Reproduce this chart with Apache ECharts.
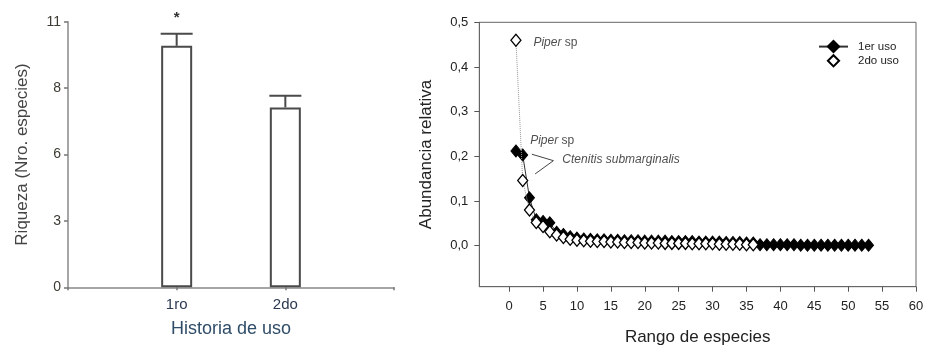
<!DOCTYPE html>
<html>
<head>
<meta charset="utf-8">
<script src="https://cdn.jsdelivr.net/npm/echarts@6/dist/echarts.min.js"></script>
<style>
  html, body { margin: 0; padding: 0; background: #fff; }
  #chart { width: 928px; height: 345px; }
</style>
</head>
<body>
<div id="chart"></div>
<script>
// Riqueza por historia de uso (panel izquierdo)
const usoCategories = ['', '1ro', '2do', ''];
const riquezaMedia = [null, 10.0, 7.45, null];
const riquezaError = [null, 0.5, 0.48, null];
const significancia = ['', '*', '', ''];
const riquezaTicks = [0, 2.75, 5.5, 8.25, 11];
const riquezaTickLabels = ['0', '3', '6', '8', '11'];

// Curvas rango-abundancia (panel derecho)
const abundancia1erUso = [
  0.212, 0.203, 0.107, 0.058, 0.054, 0.051, 0.030, 0.025, 0.020, 0.017,
  0.015, 0.014, 0.013, 0.013, 0.012, 0.012, 0.011, 0.011, 0.011, 0.010,
  0.010, 0.010, 0.010, 0.009, 0.009, 0.009, 0.009, 0.008, 0.008, 0.008,
  0.008, 0.007, 0.007, 0.007, 0.006, 0.006, 0.002, 0.002, 0.002, 0.002,
  0.002, 0.002, 0.001, 0.001, 0.001, 0.001, 0.001, 0.001, 0.001, 0.001,
  0.001, 0.001, 0.001
];
const abundancia2doUso = [
  0.460, 0.146, 0.080, 0.052, 0.043, 0.031, 0.024, 0.018, 0.014, 0.012,
  0.011, 0.010, 0.009, 0.009, 0.008, 0.008, 0.007, 0.007, 0.007, 0.006,
  0.006, 0.006, 0.005, 0.005, 0.005, 0.005, 0.004, 0.004, 0.004, 0.004,
  0.003, 0.003, 0.003, 0.003, 0.002, 0.002
];
const rangoTicks = [0, 5, 10, 15, 20, 25, 30, 35, 40, 45, 50, 55, 60];
const abundanciaTicks = [0, 0.1, 0.2, 0.3, 0.4, 0.5];

// Rótulos de especies y su guía en forma de ">"
const rotulosEspecies = [
  { pos: [3.58, 0.4537], texto: '{it|Piper} sp' },
  { pos: [3.10, 0.235], texto: '{it|Piper} sp' },
  { pos: [7.85, 0.193], texto: '{it|Ctenitis submarginalis}' }
];
const guiaCtenitis = [[3.35, 0.2046], [6.53, 0.1902], [3.83, 0.1605]];

const FONT = '"Liberation Sans", Arial, sans-serif';

const chart = echarts.init(document.getElementById('chart'), null, { renderer: 'canvas' });

const rankPairs = arr => arr.map((v, i) => [i + 1, v]);

const option = {
  animation: false,
  backgroundColor: '#fff',
  textStyle: { fontFamily: FONT },
  grid: [
    { left: 68, top: 21.7, width: 326, height: 265.6, outerBoundsMode: 'none' },
    { left: 479.3, top: 22.3, width: 436.7, height: 264.4, outerBoundsMode: 'none', show: true,
      borderColor: '#666', borderWidth: 1, backgroundColor: 'transparent' }
  ],
  legend: {
    left: 813, top: 35, orient: 'vertical',
    itemWidth: 29, itemHeight: 14, itemGap: 1,
    textStyle: { fontSize: 11.5, color: '#222', fontFamily: FONT, padding: [0, 0, 0, 5] },
    data: [
      { name: '1er uso' },
      { name: '2do uso', lineStyle: { opacity: 0 } }
    ]
  },
  xAxis: [
    {
      gridIndex: 0, type: 'category', data: usoCategories, boundaryGap: false,
      axisLine: { lineStyle: { color: '#888', width: 1.5 } },
      axisTick: { length: 3, lineStyle: { color: '#777', width: 1.5 } },
      axisLabel: { fontSize: 15, color: '#2c3a52', margin: 10, fontFamily: FONT },
      name: 'Historia de uso', nameLocation: 'middle', nameGap: 33,
      nameTextStyle: { fontSize: 18, color: '#2f4d68', fontFamily: FONT }
    },
    {
      gridIndex: 1, type: 'value', min: -4.4, max: 60,
      axisLine: { onZero: false, lineStyle: { color: '#666', width: 1 } },
      axisTick: { length: 5, customValues: rangoTicks, lineStyle: { color: '#555' } },
      axisLabel: { fontSize: 13, color: '#222', margin: 13, customValues: rangoTicks, fontFamily: FONT },
      splitLine: { show: false },
      name: 'Rango de especies', nameLocation: 'middle', nameGap: 42,
      nameTextStyle: { fontSize: 17, color: '#222', fontFamily: FONT }
    }
  ],
  yAxis: [
    {
      gridIndex: 0, type: 'value', min: 0, max: 11,
      axisLine: { show: true, lineStyle: { color: '#888', width: 1.5 } },
      axisTick: { show: true, length: 4, customValues: riquezaTicks, lineStyle: { color: '#777', width: 1.5 } },
      axisLabel: {
        fontSize: 14, color: '#3d3a33', margin: 7, customValues: riquezaTicks, fontFamily: FONT,
        formatter: v => riquezaTickLabels[riquezaTicks.indexOf(v)]
      },
      splitLine: { show: false },
      name: 'Riqueza (Nro. especies)', nameLocation: 'middle', nameGap: 37,
      nameTextStyle: { fontSize: 17, color: '#444', fontFamily: FONT }
    },
    {
      gridIndex: 1, type: 'value', min: -0.092, max: 0.5,
      axisLine: { show: true, onZero: false, lineStyle: { color: '#666', width: 1 } },
      axisTick: { show: true, length: 5, customValues: abundanciaTicks, lineStyle: { color: '#555' } },
      axisLabel: {
        fontSize: 13, color: '#222', margin: 11, customValues: abundanciaTicks, fontFamily: FONT,
        formatter: v => v.toFixed(1).replace('.', ',')
      },
      splitLine: { show: false },
      name: 'Abundancia relativa', nameLocation: 'middle', nameGap: 44,
      nameTextStyle: { fontSize: 17, color: '#222', fontFamily: FONT }
    }
  ],
  series: [
    {
      name: 'Riqueza', type: 'bar', xAxisIndex: 0, yAxisIndex: 0,
      data: riquezaMedia, barWidth: 31,
      itemStyle: { color: '#fff', borderColor: '#4a4a4a', borderWidth: 2 }
    },
    {
      name: 'Error', type: 'custom', xAxisIndex: 0, yAxisIndex: 0,
      data: riquezaMedia.map((m, i) => [i, m, riquezaError[i]]).filter(d => d[1] != null),
      z: 5,
      renderItem: (params, api) => {
        const idx = api.value(0);
        const m = api.value(1);
        const e = api.value(2);
        const base = api.coord([idx, m]);
        const top = api.coord([idx, m + e]);
        const half = 16;
        const style = { stroke: '#4a4a4a', lineWidth: 2 };
        const children = [
          { type: 'line', shape: { x1: base[0], y1: base[1], x2: top[0], y2: top[1] }, style },
          { type: 'line', shape: { x1: top[0] - half, y1: top[1], x2: top[0] + half, y2: top[1] }, style }
        ];
        const mark = significancia[idx];
        if (mark) {
          children.push({
            type: 'text',
            style: {
              text: mark, x: top[0], y: top[1] - 16,
              align: 'center', verticalAlign: 'middle',
              font: 'bold 15px ' + FONT, fill: '#333'
            }
          });
        }
        return { type: 'group', children };
      }
    },
    {
      name: '1er uso', type: 'line', xAxisIndex: 1, yAxisIndex: 1,
      data: rankPairs(abundancia1erUso),
      symbol: 'diamond', symbolSize: [10, 12], z: 2,
      itemStyle: { color: '#000', borderColor: '#000', borderWidth: 1 },
      lineStyle: { color: '#333', width: 1 }
    },
    {
      name: '2do uso', type: 'line', xAxisIndex: 1, yAxisIndex: 1,
      data: rankPairs(abundancia2doUso),
      symbol: 'diamond', symbolSize: [10, 12], z: 3,
      itemStyle: { color: '#fff', borderColor: '#000', borderWidth: 1.3 },
      lineStyle: { color: '#999', width: 1, type: 'dotted' }
    },
    {
      name: 'guia', type: 'line', xAxisIndex: 1, yAxisIndex: 1,
      data: guiaCtenitis, symbol: 'none', z: 1, silent: true,
      lineStyle: { color: '#444', width: 1 }
    },
    {
      name: 'rotulos', type: 'scatter', xAxisIndex: 1, yAxisIndex: 1,
      symbolSize: 0, silent: true, z: 4,
      data: rotulosEspecies.map(r => ({
        value: r.pos,
        label: { formatter: r.texto }
      })),
      label: {
        show: true, position: 'right', distance: 0,
        fontSize: 12, color: '#222', fontFamily: FONT,
        rich: { it: { fontStyle: 'italic', fontSize: 12, color: '#222', fontFamily: FONT } }
      }
    }
  ]
};

chart.setOption(option);
</script>
</body>
</html>
